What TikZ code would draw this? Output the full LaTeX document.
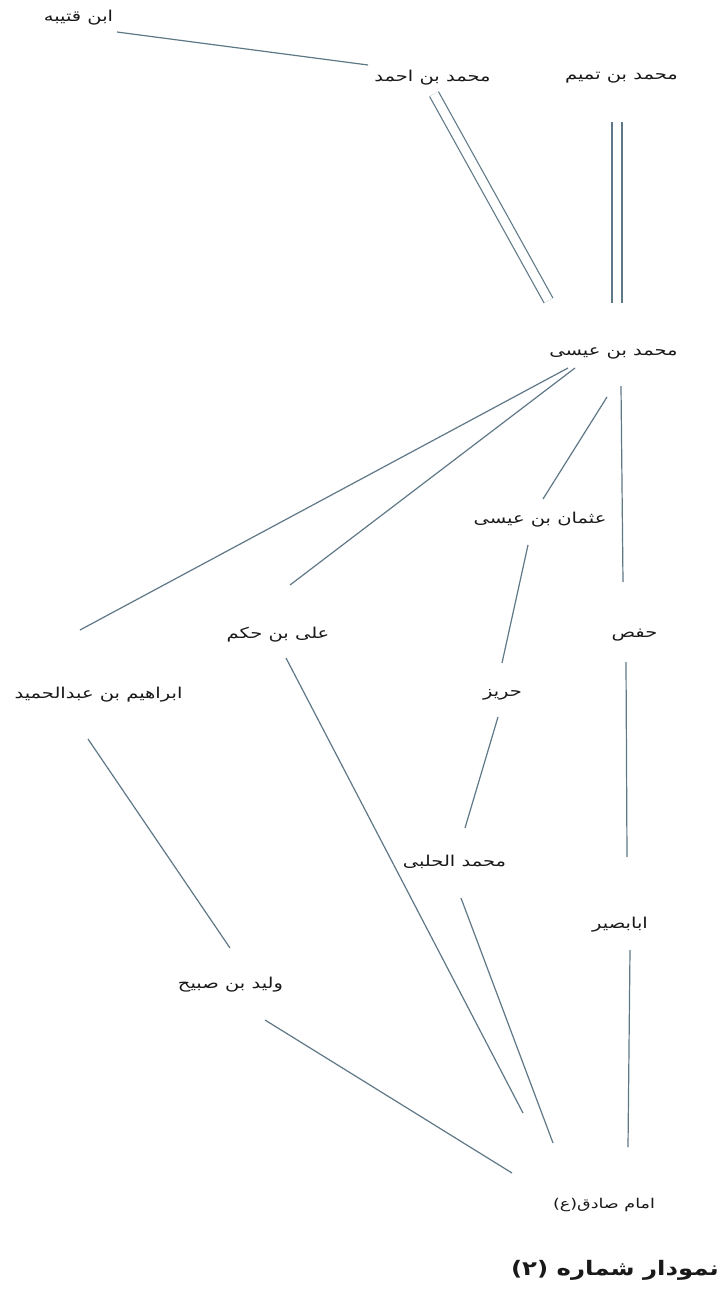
\documentclass[tikz,border=0pt]{standalone}
\usepackage{fontspec}
\TeXXeTstate=1
\newfontfamily\arfont[Script=Arabic,FakeStretch=1.3]{DejaVu Sans}
\newfontfamily\artitle[Script=Arabic,FakeStretch=1.22]{DejaVu Sans}
\newcommand\rtltext[1]{\beginR#1\endR}
\definecolor{linkcol}{RGB}{95,120,135}
\definecolor{txtcol}{RGB}{25,25,25}
\tikzset{
  lbl/.style={font=\arfont\fontsize{15}{17}\selectfont, text=txtcol, inner sep=0pt},
  small/.style={font=\arfont\fontsize{13.5}{15}\selectfont, text=txtcol, inner sep=0pt},
  ttl/.style={font=\artitle\bfseries\fontsize{20}{22}\selectfont, text=txtcol, inner sep=0pt},
  link/.style={draw=linkcol, line width=1.2pt},
  dbl/.style={draw=linkcol, line width=1.2pt, double=white, double distance=8.8pt},
}
\begin{document}
\begin{tikzpicture}[x=1pt,y=-1pt]
\fill[white] (0,0) rectangle (723,1299);
\useasboundingbox (0,0) rectangle (723,1299);
% nodes
\node[lbl] (qutayba) at (78.5,18) {\rtltext{ابن قتیبه}};
\node[lbl] (ahmad) at (432.5,78) {\rtltext{محمد بن احمد}};
\node[lbl] (tamim) at (621.5,78) {\rtltext{محمد بن تمیم}};
\node[lbl] (isa) at (613.5,353) {\rtltext{محمد بن عیسی}};
\node[lbl] (uthman) at (540,520) {\rtltext{عثمان بن عیسی}};
\node[lbl] (hafs) at (634.5,635) {\rtltext{حفص}};
\node[lbl] (ali) at (278,635) {\rtltext{علی بن حکم}};
\node[lbl] (ibrahim) at (98.5,695) {\rtltext{ابراهیم بن عبدالحمید}};
\node[lbl] (hariz) at (502.5,695) {\rtltext{حریز}};
\node[lbl] (halabi) at (454.5,862) {\rtltext{محمد الحلبی}};
\node[lbl] (abubasir) at (620,925) {\rtltext{ابابصیر}};
\node[lbl] (walid) at (230.5,985) {\rtltext{ولید بن صبیح}};
\node[small] (imam) at (604,1205) {\rtltext{امام صادق(ع)}};
\node[ttl] (title) at (615,1270) {\rtltext{نمودار شماره (۲)}};
% connectors
\draw[link] ([shift={(38.5,14)}]qutayba.center) -- ([shift={(-64.5,-13)}]ahmad.center);
\draw[dbl] ([shift={(1.5,16)}]ahmad.center) -- ([shift={(-65,-52.5)}]isa.center);
\draw[dbl] ([shift={(-4.5,44)}]tamim.center) -- ([shift={(3.5,-50)}]isa.center);
\draw[link] ([shift={(-45.5,15)}]isa.center) -- ([shift={(-18.5,-65)}]ibrahim.center);
\draw[link] ([shift={(-38.5,15)}]isa.center) -- ([shift={(12,-50)}]ali.center);
\draw[link] ([shift={(-6.5,44)}]isa.center) -- ([shift={(3,-21)}]uthman.center);
\draw[link] ([shift={(7.5,33)}]isa.center) -- ([shift={(-11.5,-53)}]hafs.center);
\draw[link] ([shift={(-12,25)}]uthman.center) -- ([shift={(-0.5,-32)}]hariz.center);
\draw[link] ([shift={(-8.5,27)}]hafs.center) -- ([shift={(7,-68)}]abubasir.center);
\draw[link] ([shift={(-4.5,22)}]hariz.center) -- ([shift={(10.5,-34)}]halabi.center);
\draw[link] ([shift={(-10.5,44)}]ibrahim.center) -- ([shift={(-0.5,-37)}]walid.center);
\draw[link] ([shift={(8,23)}]ali.center) -- ([shift={(-81,-92)}]imam.center);
\draw[link] ([shift={(6.5,36)}]halabi.center) -- ([shift={(-51,-62)}]imam.center);
\draw[link] ([shift={(10,25)}]abubasir.center) -- ([shift={(24,-58)}]imam.center);
\draw[link] ([shift={(34.5,35)}]walid.center) -- ([shift={(-92,-32)}]imam.center);
\end{tikzpicture}
\end{document}
